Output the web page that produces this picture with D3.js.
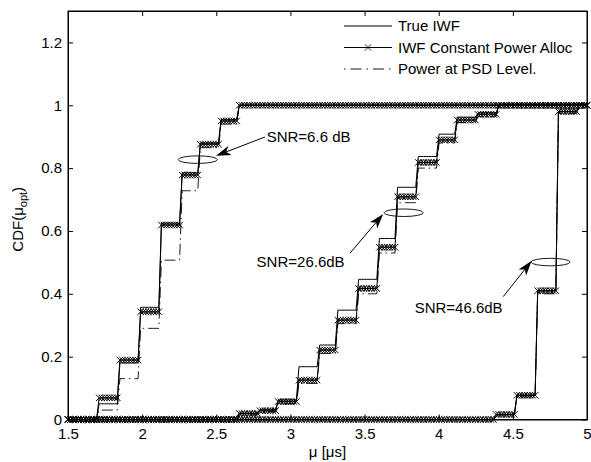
<!DOCTYPE html>
<html>
<head>
<meta charset="utf-8">
<script src="https://cdn.jsdelivr.net/npm/d3@7"></script>
<style>
  html, body { margin: 0; padding: 0; background: #fff; }
  svg { display: block; }
  text { font-family: "Liberation Sans", Arial, sans-serif; fill: #000; }
</style>
</head>
<body>
<svg id="chart" width="591" height="462"></svg>
<script>
// ---------------- data ----------------
const xTicks = [1.5, 2, 2.5, 3, 3.5, 4, 4.5, 5];
const xTickLabels = ["1.5", "2", "2.5", "3", "3.5", "4", "4.5", "5"];
const yTicks = [0, 0.2, 0.4, 0.6, 0.8, 1, 1.2];
const yTickLabels = ["0", "0.2", "0.4", "0.6", "0.8", "1", "1.2"];

const legendLabels = ["True IWF", "IWF Constant Power Alloc", "Power at PSD Level."];

// SNR = 6.6 dB : step positions (mu) and CDF levels after each step
const steps66 = [1.705, 1.85, 1.985, 2.12, 2.255, 2.385, 2.52, 2.655];
const trueIWF66 = [0.05, 0.18, 0.357, 0.625, 0.785, 0.88, 0.955, 1];
const constIWF66 = [0.069, 0.189, 0.343, 0.619, 0.778, 0.876, 0.95, 1];
const psd66 = [0.03, 0.13, 0.29, 0.507, 0.728, 0.865, 0.94, 1];

// SNR = 26.6 dB
const steps266 = [2.655, 2.78, 2.915, 3.05, 3.19, 3.32, 3.455, 3.59, 3.72, 3.855, 3.99, 4.125, 4.26, 4.395];
const trueIWF266 = [0.02, 0.032, 0.062, 0.168, 0.237, 0.348, 0.446, 0.576, 0.739, 0.837, 0.908, 0.962, 0.976, 1];
const constIWF266 = [0.019, 0.028, 0.057, 0.125, 0.221, 0.316, 0.417, 0.548, 0.709, 0.818, 0.89, 0.953, 0.971, 1];
const psd266 = [0.015, 0.025, 0.05, 0.115, 0.21, 0.305, 0.40, 0.53, 0.69, 0.80, 0.88, 0.945, 0.965, 1];

// SNR = 46.6 dB
const steps466 = [4.385, 4.525, 4.665, 4.80, 4.935];
const trueIWF466 = [0.016, 0.077, 0.41, 0.98, 1];
const constIWF466 = [0.016, 0.077, 0.41, 0.98, 1];
const psd466 = [0.014, 0.072, 0.40, 0.975, 1];

// Annotations (data coordinates)
const annTexts = ["SNR=6.6 dB", "SNR=26.6dB", "SNR=46.6dB"];
const annTextPos = [[2.84, 0.882], [2.772, 0.485], [4.431, 0.34]];
const annAnchor = ["start", "start", "end"];
const annArrowFrom = [[2.828, 0.899], [3.401, 0.529], [4.435, 0.391]];
const annArrowTo = [[2.498, 0.839], [3.626, 0.654], [4.627, 0.505]];
const annEllipse = [[2.375, 0.827], [3.764, 0.658], [4.754, 0.501]];
const ellipseHalfW = 0.132, ellipseHalfH = 0.012;

// sampling grid of the simulation (mu values)
const muStep = 0.0175;
const muGrid = d3.range(0, 201).map(i => +(1.5 + i * muStep).toFixed(5));

// ---------------- drawing ----------------
const svg = d3.select("#chart");
const x = d3.scaleLinear().domain([1.5, 5]).range([68, 587]);
const y = d3.scaleLinear().domain([0, 1.3]).range([419.5, 11]);

function sample(steps, levels) {
  return muGrid.map(m => {
    let v = 0;
    for (let i = 0; i < steps.length; i++) if (m >= steps[i] - 1e-9) v = levels[i];
    return [m, v];
  });
}

const line = d3.line().x(d => x(d[0])).y(d => y(d[1]));

const plot = svg.append("g");

const curves = [
  [steps66, trueIWF66, constIWF66, psd66],
  [steps266, trueIWF266, constIWF266, psd266],
  [steps466, trueIWF466, constIWF466, psd466]
];

// dash-dot first
curves.forEach(c => {
  plot.append("path").datum(sample(c[0], c[3])).attr("d", line)
    .attr("fill", "none").attr("stroke", "#000").attr("stroke-width", 0.9)
    .attr("stroke-dasharray", "11,4,1.5,4");
});
// true IWF
curves.forEach(c => {
  plot.append("path").datum(sample(c[0], c[1])).attr("d", line)
    .attr("fill", "none").attr("stroke", "#000").attr("stroke-width", 1);
});
// constant power with x markers
const cross = "M-3.2,-3.2L3.2,3.2M-3.2,3.2L3.2,-3.2";
curves.forEach(c => {
  const pts = sample(c[0], c[2]);
  plot.append("path").datum(pts).attr("d", line)
    .attr("fill", "none").attr("stroke", "#000").attr("stroke-width", 1);
  plot.append("g").selectAll("path").data(pts).join("path")
    .attr("transform", d => `translate(${x(d[0])},${y(d[1])})`)
    .attr("d", cross).attr("stroke", "#000").attr("stroke-width", 1).attr("fill", "none");
});

// axes box
const fmtX = (d, i) => xTickLabels[i];
const fmtY = (d, i) => yTickLabels[i];
const axB = svg.append("g").attr("transform", `translate(0,${y(0)})`)
  .call(d3.axisBottom(x).tickValues(xTicks).tickFormat(fmtX).tickSizeInner(-5).tickSizeOuter(0).tickPadding(9));
const axT = svg.append("g").attr("transform", `translate(0,${y(1.3)})`)
  .call(d3.axisTop(x).tickValues(xTicks).tickFormat("").tickSizeInner(-5).tickSizeOuter(0));
const axL = svg.append("g").attr("transform", `translate(${x(1.5)},0)`)
  .call(d3.axisLeft(y).tickValues(yTicks).tickFormat(fmtY).tickSizeInner(-5).tickSizeOuter(0).tickPadding(6));
const axR = svg.append("g").attr("transform", `translate(${x(5)},0)`)
  .call(d3.axisRight(y).tickValues(yTicks).tickFormat("").tickSizeInner(-5).tickSizeOuter(0));
[axB, axT, axL, axR].forEach(a => {
  a.selectAll(".domain").attr("stroke", "#000").attr("stroke-width", 1);
  a.selectAll(".tick line").attr("stroke", "#000");
  a.selectAll("text").attr("font-size", 15).attr("font-family", "Liberation Sans, Arial, sans-serif").attr("fill", "#000");
});
svg.append("rect").attr("x", x(1.5)).attr("y", y(1.3)).attr("width", x(5) - x(1.5)).attr("height", y(0) - y(1.3))
  .attr("fill", "none").attr("stroke", "#000").attr("stroke-width", 1);

// axis labels
svg.append("text").attr("x", (x(1.5) + x(5)) / 2).attr("y", 457).attr("text-anchor", "middle")
  .attr("font-size", 15).text("μ [μs]");
const yl = svg.append("text").attr("transform", `translate(23,${(y(0) + y(1.3)) / 2 + 4}) rotate(-90)`)
  .attr("text-anchor", "middle").attr("font-size", 15);
yl.append("tspan").text("CDF(μ");
yl.append("tspan").attr("font-size", 11).attr("dy", 4).text("opt");
yl.append("tspan").attr("dy", -4).text(")");

// legend
const legRows = [26, 47.5, 69];
const leg = svg.append("g");
legendLabels.forEach((lab, i) => {
  const ly = legRows[i];
  const l = leg.append("line").attr("x1", 344).attr("x2", 392).attr("y1", ly).attr("y2", ly)
    .attr("stroke", "#000").attr("stroke-width", 1);
  if (i === 2) l.attr("stroke-dasharray", "1.5,5,11,5").attr("stroke-width", 0.9);
  if (i === 1) leg.append("path").attr("transform", `translate(368,${ly})`).attr("d", cross)
    .attr("stroke", "#000").attr("stroke-width", 0.8);
  leg.append("text").attr("x", 398).attr("y", ly + 5.4).attr("font-size", 15).text(lab);
});

// annotations
annTexts.forEach((t, i) => {
  svg.append("text").attr("x", x(annTextPos[i][0])).attr("y", y(annTextPos[i][1]))
    .attr("text-anchor", annAnchor[i]).attr("font-size", 15).text(t);
  svg.append("ellipse").attr("cx", x(annEllipse[i][0])).attr("cy", y(annEllipse[i][1]))
    .attr("rx", x(annEllipse[i][0] + ellipseHalfW) - x(annEllipse[i][0]))
    .attr("ry", y(annEllipse[i][1]) - y(annEllipse[i][1] + ellipseHalfH))
    .attr("fill", "none").attr("stroke", "#000").attr("stroke-width", 0.9);
  const x0 = x(annArrowFrom[i][0]), y0 = y(annArrowFrom[i][1]);
  const x1 = x(annArrowTo[i][0]), y1 = y(annArrowTo[i][1]);
  const ang = Math.atan2(y1 - y0, x1 - x0);
  const L = 15, Wd = 4.8, notch = 11;
  const ux = Math.cos(ang), uy = Math.sin(ang), px = -uy, py = ux;
  const bx = x1 - ux * L, by = y1 - uy * L;
  const nx = x1 - ux * notch, ny = y1 - uy * notch;
  svg.append("line").attr("x1", x0).attr("y1", y0).attr("x2", nx).attr("y2", ny)
    .attr("stroke", "#000").attr("stroke-width", 1);
  svg.append("path")
    .attr("d", `M${x1},${y1}L${bx + px * Wd},${by + py * Wd}L${nx},${ny}L${bx - px * Wd},${by - py * Wd}Z`)
    .attr("fill", "#000");
});
</script>
</body>
</html>
